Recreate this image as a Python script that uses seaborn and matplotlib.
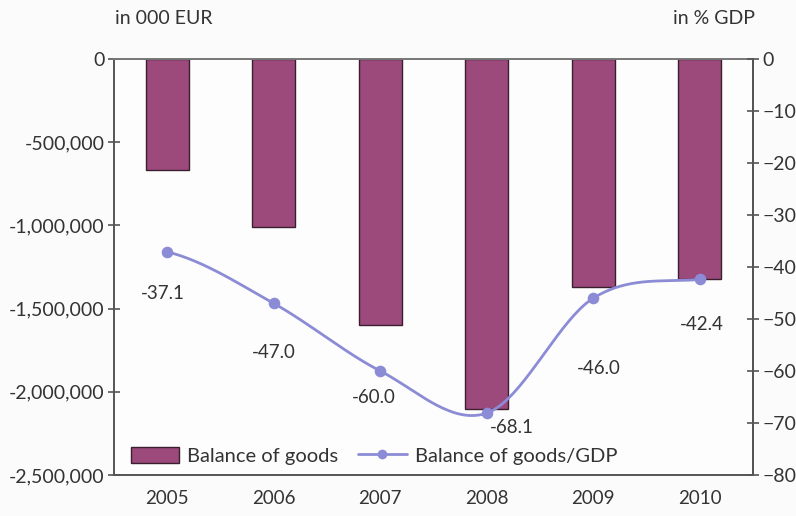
import numpy as np
import pandas as pd
import matplotlib
matplotlib.use("Agg")
import matplotlib.pyplot as plt
import seaborn as sns
from matplotlib.ticker import FuncFormatter
from matplotlib.lines import Line2D
from matplotlib.patches import Patch

years = ["2005", "2006", "2007", "2008", "2009", "2010"]
balance_goods = [-667000, -1010000, -1600000, -2103000, -1370000, -1322000]
balance_gdp = [-37.1, -47.0, -60.0, -68.1, -46.0, -42.4]
left_ticks = [0, -500000, -1000000, -1500000, -2000000, -2500000]
right_ticks = [0, -10, -20, -30, -40, -50, -60, -70, -80]

BAR = "#9c4a7c"
BAR_EDGE = "#3b1f2e"
LINE = "#8c8cd6"
AXIS = "#555555"
TEXT = "#333333"

sns.set_theme(style="white")
plt.rcParams["font.family"] = ["Lato", "DejaVu Sans"]

fig = plt.figure(figsize=(7.96, 5.16), dpi=100, facecolor="#fbfbfb")
ax = fig.add_axes([0.1432, 0.0795, 0.8028, 0.8062])
ax.set_facecolor("#fdfdfd")

df = pd.DataFrame({"year": years, "goods": balance_goods, "gdp": balance_gdp})
sns.barplot(data=df, x="year", y="goods", ax=ax, color=BAR, width=0.4,
            edgecolor=BAR_EDGE, linewidth=1.0, saturation=1)
ax.set_xlim(-0.5, 5.5)
ax.set_ylim(-2500000, 0)
ax.set_yticks(left_ticks)
ax.yaxis.set_major_formatter(FuncFormatter(lambda v, p: f"{int(v):,}"))
ax.set_xlabel("")
ax.set_ylabel("")
ax.tick_params(axis="y", direction="inout", length=8, width=1.2, color=AXIS,
               labelsize=14, labelcolor=TEXT, pad=3)
ax.tick_params(axis="x", length=0, labelsize=13.5, labelcolor=TEXT, pad=11)
for s in ax.spines.values():
    s.set_color(AXIS)
    s.set_linewidth(1.4)
ax.spines["top"].set_color("#777777")

# secondary axis for the share of GDP
ax2 = ax.twinx()
ax2.set_ylim(-80, 0)
ax2.set_yticks(right_ticks)
ax2.tick_params(axis="y", direction="inout", length=8, width=1.2, color=AXIS,
                labelsize=14, labelcolor=TEXT, pad=3)
for s in ax2.spines.values():
    s.set_visible(False)
ax2.spines["right"].set_visible(True)
ax2.spines["right"].set_color(AXIS)
ax2.spines["right"].set_linewidth(1.4)

# smoothed curve (uniform Catmull-Rom through the yearly points)
pts = np.array(balance_gdp, dtype=float)
xs_all, ys_all = [], []
ext = np.concatenate([[pts[0]], pts, [pts[-1]]])
for i in range(len(pts) - 1):
    p0, p1, p2, p3 = ext[i], ext[i + 1], ext[i + 2], ext[i + 3]
    m1 = (p2 - p0) / 2.0
    m2 = (p3 - p1) / 2.0
    t = np.linspace(0, 1, 40)
    h00 = 2 * t**3 - 3 * t**2 + 1
    h10 = t**3 - 2 * t**2 + t
    h01 = -2 * t**3 + 3 * t**2
    h11 = t**3 - t**2
    xs_all.append(i + t)
    ys_all.append(h00 * p1 + h10 * m1 + h01 * p2 + h11 * m2)
curve = pd.DataFrame({"x": np.concatenate(xs_all), "y": np.concatenate(ys_all)})
sns.lineplot(data=curve, x="x", y="y", ax=ax2, color=LINE, linewidth=2.0,
             sort=False, estimator=None)
sns.scatterplot(x=np.arange(len(years)), y=balance_gdp, ax=ax2, color=LINE,
                s=70, edgecolor=LINE, linewidth=0, zorder=5)
ax2.set_xlabel("")
ax2.set_ylabel("")
ax2.set_xlim(-0.5, 5.5)

# value labels
offsets = [(-4, -42), (0, -49), (-6, -27), (25, -14), (6, -70), (2, -45)]
for i, (v, (dx, dy)) in enumerate(zip(balance_gdp, offsets)):
    ax2.annotate(f"{v:.1f}", (i, v), xytext=(dx, dy), textcoords="offset pixels",
                 ha="center", va="center", fontsize=13.5, color=TEXT)

# unit captions
fig.text(115 / 796, 1 - 18 / 516, "in 000 EUR", ha="left", va="center",
         fontsize=14, color=TEXT)
fig.text(755 / 796, 1 - 18 / 516, "in % GDP", ha="right", va="center",
         fontsize=14, color=TEXT)

handles = [Patch(facecolor=BAR, edgecolor=BAR_EDGE, linewidth=1.0),
           Line2D([0], [0], color=LINE, linewidth=2.0, marker="o",
                  markersize=7, markeredgewidth=0)]
leg = ax.legend(handles, ["Balance of goods", "Balance of goods/GDP"],
                loc="center left", bbox_to_anchor=(0.026, 0.046), ncol=2,
                frameon=False, fontsize=14.5, handlelength=2.4,
                handletextpad=0.4, columnspacing=1.0, borderaxespad=0,
                borderpad=0, handleheight=0.9)
for t in leg.get_texts():
    t.set_color(TEXT)

fig.savefig("out.png", dpi=100, facecolor=fig.get_facecolor())
